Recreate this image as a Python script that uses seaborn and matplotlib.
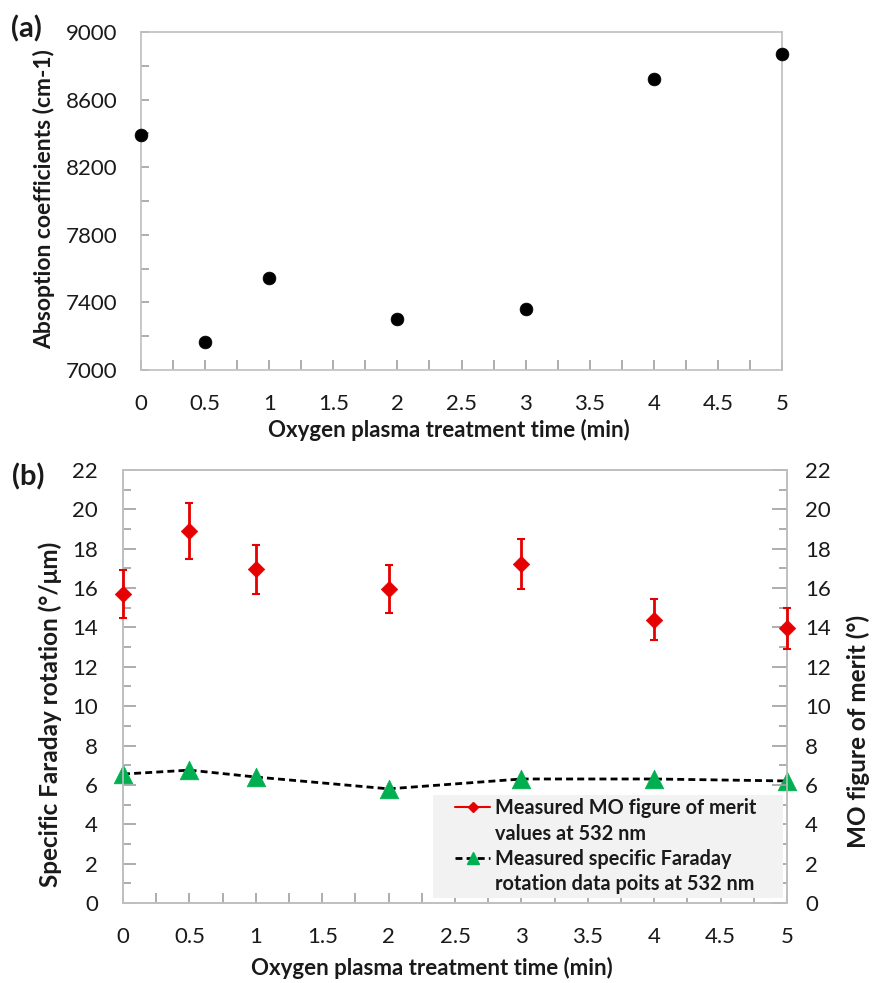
import numpy as np
import pandas as pd
import matplotlib
matplotlib.use("Agg")
import matplotlib.pyplot as plt
import seaborn as sns
from matplotlib.lines import Line2D
from matplotlib.patches import Rectangle
from matplotlib.ticker import MultipleLocator, FixedLocator

# ---- data ----
time_a = [0, 0.5, 1, 2, 3, 4, 5]
absorption = [8390, 7165, 7543, 7301, 7360, 8722, 8870]

time_b = [0, 0.5, 1, 2, 3, 4, 5]
mo_merit = [15.7, 18.9, 16.95, 15.95, 17.2, 14.4, 13.95]
mo_err = [1.2, 1.4, 1.25, 1.2, 1.27, 1.05, 1.05]
faraday = [6.55, 6.75, 6.4, 5.8, 6.3, 6.3, 6.2]

xticks = [0, 0.5, 1, 1.5, 2, 2.5, 3, 3.5, 4, 4.5, 5]
xticklabels = ["0", "0.5", "1", "1.5", "2", "2.5", "3", "3.5", "4", "4.5", "5"]
yticks_a = [7000, 7400, 7800, 8200, 8600, 9000]
yticks_b = [0, 2, 4, 6, 8, 10, 12, 14, 16, 18, 20, 22]

label_x = "Oxygen plasma treatment time (min)"
label_ya = "Absoption coefficients (cm-1)"
label_yb = "Specific Faraday rotation (°/μm)"
label_yb2 = "MO figure of merit (°)"
legend_lines = ["Measured MO figure of merit", "values at 532 nm",
                "Measured specific Faraday", "rotation data poits at 532 nm"]

df_a = pd.DataFrame({"t": time_a, "a": absorption})
df_b = pd.DataFrame({"t": time_b, "mo": mo_merit, "err": mo_err, "fr": faraday})

sns.set_style("ticks")
plt.rcParams["font.family"] = ["Lato", "DejaVu Sans"]

SPINE = "#bfbfbf"
TICKC = "#a0a0a0"
TXT = "#1a1a1a"
TICK_FS = 16
LABEL_FS = 16

fig = plt.figure(figsize=(8.72, 9.83), dpi=100)

def style_axes(ax, pad_y=17):
    for s in ax.spines.values():
        s.set_color(SPINE)
        s.set_linewidth(1.2)
    ax.tick_params(axis="both", which="both", direction="in", color=TICKC,
                   width=1.2, labelsize=TICK_FS, labelcolor=TXT)
    ax.tick_params(axis="x", which="both", length=7, pad=17, top=False)
    ax.tick_params(axis="y", which="both", length=6, pad=pad_y, right=False)

# ---- panel (a) ----
ax1 = fig.add_axes([0.1617, 0.6236, 0.7351, 0.3438])
sns.scatterplot(data=df_a, x="t", y="a", ax=ax1, color="black", s=85,
                edgecolor="black", linewidth=0.5, zorder=3, clip_on=False)
ax1.set_xlim(0, 5)
ax1.set_ylim(7000, 9000)
ax1.set_xticks(xticks)
ax1.set_xticklabels(xticklabels)
ax1.xaxis.set_minor_locator(MultipleLocator(0.25))
ax1.yaxis.set_major_locator(FixedLocator(yticks_a))
ax1.yaxis.set_minor_locator(MultipleLocator(200))
style_axes(ax1)
ax1.set_xlabel(label_x, fontsize=LABEL_FS, fontweight="bold", color=TXT)
ax1.set_ylabel(label_ya, fontsize=16.5, fontweight="bold", color=TXT)
ax1.xaxis.set_label_coords(0.48, -0.1445)
ax1.yaxis.set_label_coords(-0.134, 0.505)
fig.text(0.013, 0.971, "(a)", fontsize=21, fontweight="bold", color=TXT, va="center")

# ---- panel (b) ----
ax2 = fig.add_axes([0.1411, 0.0814, 0.7615, 0.4405])
sns.lineplot(data=df_b, x="t", y="fr", ax=ax2, color="black", linestyle="--",
             linewidth=2, dashes=False, zorder=2)
ax2.lines[-1].set_dashes((2.5, 1.5))
sns.scatterplot(data=df_b, x="t", y="fr", ax=ax2, marker="^", s=180,
                color="#00b050", edgecolor="#00b050", linewidth=0.5, zorder=3,
                clip_on=False)
ax2.set_xlim(0, 5)
ax2.set_ylim(0, 22)
ax2.set_xticks(xticks)
ax2.set_xticklabels(xticklabels)
ax2.xaxis.set_minor_locator(MultipleLocator(0.25))
ax2.yaxis.set_major_locator(FixedLocator(yticks_b))
ax2.yaxis.set_minor_locator(MultipleLocator(1))
style_axes(ax2, pad_y=18)
ax2.tick_params(axis="y", which="major", length=9)
ax2.set_xlabel(label_x, fontsize=LABEL_FS, fontweight="bold", color=TXT)
ax2.set_ylabel(label_yb, fontsize=17.5, fontweight="bold", color=TXT)
ax2.xaxis.set_label_coords(0.465, -0.1247)
ax2.yaxis.set_label_coords(-0.092, 0.435)

ax3 = ax2.twinx()
ax3.errorbar(df_b["t"], df_b["mo"], yerr=df_b["err"], fmt="none",
             ecolor="#e60000", elinewidth=2, capsize=3, capthick=1.5,
             zorder=3, clip_on=False)
sns.scatterplot(data=df_b, x="t", y="mo", ax=ax3, marker="D", s=70,
                color="#e60000", edgecolor="#e60000", linewidth=0.5, zorder=4,
                clip_on=False)
ax3.set_ylim(0, 22)
ax3.yaxis.set_major_locator(FixedLocator(yticks_b))
ax3.yaxis.set_minor_locator(MultipleLocator(1))
for s in ax3.spines.values():
    s.set_color(SPINE)
    s.set_linewidth(1.2)
ax3.tick_params(axis="y", which="both", direction="in", color=TICKC, width=1.2,
                labelsize=TICK_FS, labelcolor=TXT, pad=13, left=False, right=True)
ax3.tick_params(axis="y", which="major", length=11)
ax3.tick_params(axis="y", which="minor", length=6)
ax3.set_ylabel(label_yb2, fontsize=17.5, fontweight="bold", color=TXT)
ax3.yaxis.set_label_coords(1.090, 0.397)
ax3.set_xlabel("")

# legend background box
ax3.add_patch(Rectangle((0.467, 0.0115), 0.527, 0.2375, transform=ax3.transAxes,
                        facecolor="#f2f2f2", edgecolor="none", zorder=1))

blank = Line2D([0], [0], color="none", linewidth=0)
handles = [
    Line2D([0], [0], color="#e60000", linewidth=1.5, marker="D", markersize=5),
    blank,
    Line2D([0], [0], color="black", linewidth=2, linestyle=(0, (2.5, 1.5)),
           marker="^", markersize=9, markerfacecolor="#00b050",
           markeredgecolor="#00b050"),
    blank,
]
leg = ax3.legend(handles, legend_lines, loc="upper left",
                 bbox_to_anchor=(0.495, 0.249), frameon=False,
                 prop={"size": 14.3, "weight": "bold"}, handlelength=1.8,
                 handletextpad=0.25, labelspacing=0.27, borderpad=0.15,
                 borderaxespad=0)
for t in leg.get_texts():
    t.set_color(TXT)

fig.text(0.014, 0.515, "(b)", fontsize=21, fontweight="bold", color=TXT, va="center")

fig.savefig("out.png", dpi=100)
